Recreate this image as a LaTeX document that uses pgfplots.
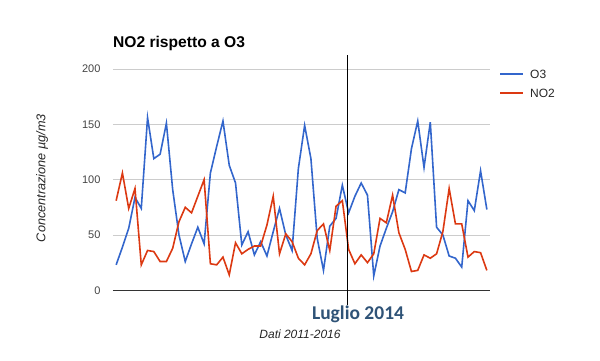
\documentclass[border=0pt]{standalone}
\usepackage{pgfplots}
\pgfplotsset{compat=1.18}
\usepackage{fontspec}
\setmainfont{Liberation Sans}
\newfontfamily\carlito{Carlito}
\definecolor{oblue}{HTML}{3366CC}
\definecolor{nred}{HTML}{DC3912}
\definecolor{lug}{HTML}{2F5377}
\definecolor{tick}{HTML}{444444}

\begin{document}
\begin{tikzpicture}[x=1pt,y=1pt]
\begin{axis}[
  at={(0,0)}, anchor=south west, scale only axis,
  width=377pt, height=221.3pt,
  xmin=-0.5, xmax=59.5, ymin=0, ymax=200,
  ytick={0,50,100,150,200}, xtick=\empty,
  ymajorgrids, grid style={draw=black!20, line width=0.8pt},
  axis line style={draw=none}, major tick length=0pt,
  yticklabel style={font=\fontsize{11}{11}\selectfont, text=tick, xshift=-9pt},
  /pgf/number format/assume math mode=true,
  clip=false,
]
\draw[black!80, line width=1pt] (axis cs:-0.5,0) -- (axis cs:59.5,0);
\addplot[oblue, line width=1.6pt, mark=none] coordinates {
(0,23) (1,39) (2,56) (3,84) (4,74) (5,156) (6,119) (7,123) (8,151) (9,91)
(10,50) (11,26) (12,42) (13,57) (14,42) (15,106) (16,130) (17,153) (18,113) (19,97)
(20,41) (21,53) (22,32) (23,44) (24,31) (25,53) (26,74) (27,50) (28,36) (29,110)
(30,149) (31,119) (32,47) (33,18) (34,58) (35,65) (36,95) (37,70) (38,85) (39,97)
(40,86) (41,13) (42,40) (43,56) (44,71) (45,91) (46,88) (47,128) (48,153) (49,111)
(50,152) (51,57) (52,50) (53,31) (54,29) (55,21) (56,81) (57,72) (58,108) (59,73)
};
\addplot[nred, line width=1.6pt, mark=none] coordinates {
(0,81) (1,106) (2,74) (3,92) (4,23) (5,36) (6,35) (7,26) (8,26) (9,38)
(10,62) (11,75) (12,70) (13,85) (14,100) (15,24) (16,23) (17,30) (18,14) (19,43)
(20,33) (21,37) (22,40) (23,40) (24,59) (25,85) (26,33) (27,51) (28,44) (29,29)
(30,23) (31,33) (32,54) (33,60) (34,36) (35,76) (36,81) (37,37) (38,24) (39,32)
(40,25) (41,33) (42,65) (43,61) (44,86) (45,52) (46,37) (47,17) (48,18) (49,32)
(50,29) (51,33) (52,53) (53,92) (54,60) (55,60) (56,30) (57,35) (58,34) (59,18)
};
\draw[black, line width=1pt] (axis cs:36.9,-13.3) -- (axis cs:36.9,212.7);
\end{axis}
% px (X,Y) -> (X-113, 290.3-Y)
\node[anchor=base west, inner sep=0pt, font=\fontsize{15.6}{15.6}\selectfont\bfseries] at (0,243.3) {NO2 rispetto a O3};
\draw[oblue, line width=2pt] (387,216) -- (410,216);
\draw[nred, line width=2pt] (387,197) -- (410,197);
\node[anchor=west, inner sep=0pt, font=\fontsize{12}{12}\selectfont, text=black!85] at (417,216) {O3};
\node[anchor=west, inner sep=0pt, font=\fontsize{12}{12}\selectfont, text=black!85] at (417,197) {NO2};
\node[rotate=90, inner sep=0pt, font=\fontsize{12.7}{12.7}\selectfont\itshape, text=black!85] at (-71,112.3) {Concentrazione µg/m3};
\node[inner sep=0pt, font=\fontsize{12}{12}\selectfont\itshape, text=black!85] at (187,-44) {Dati 2011-2016};
\node[anchor=base, inner sep=0pt, font=\fontsize{19.5}{19.5}\carlito\bfseries, text=lug] at (245,-29.2) {Luglio 2014};
\pgfresetboundingbox
\path (-113,-69.7) rectangle (487,290.3);
\end{tikzpicture}
\end{document}
